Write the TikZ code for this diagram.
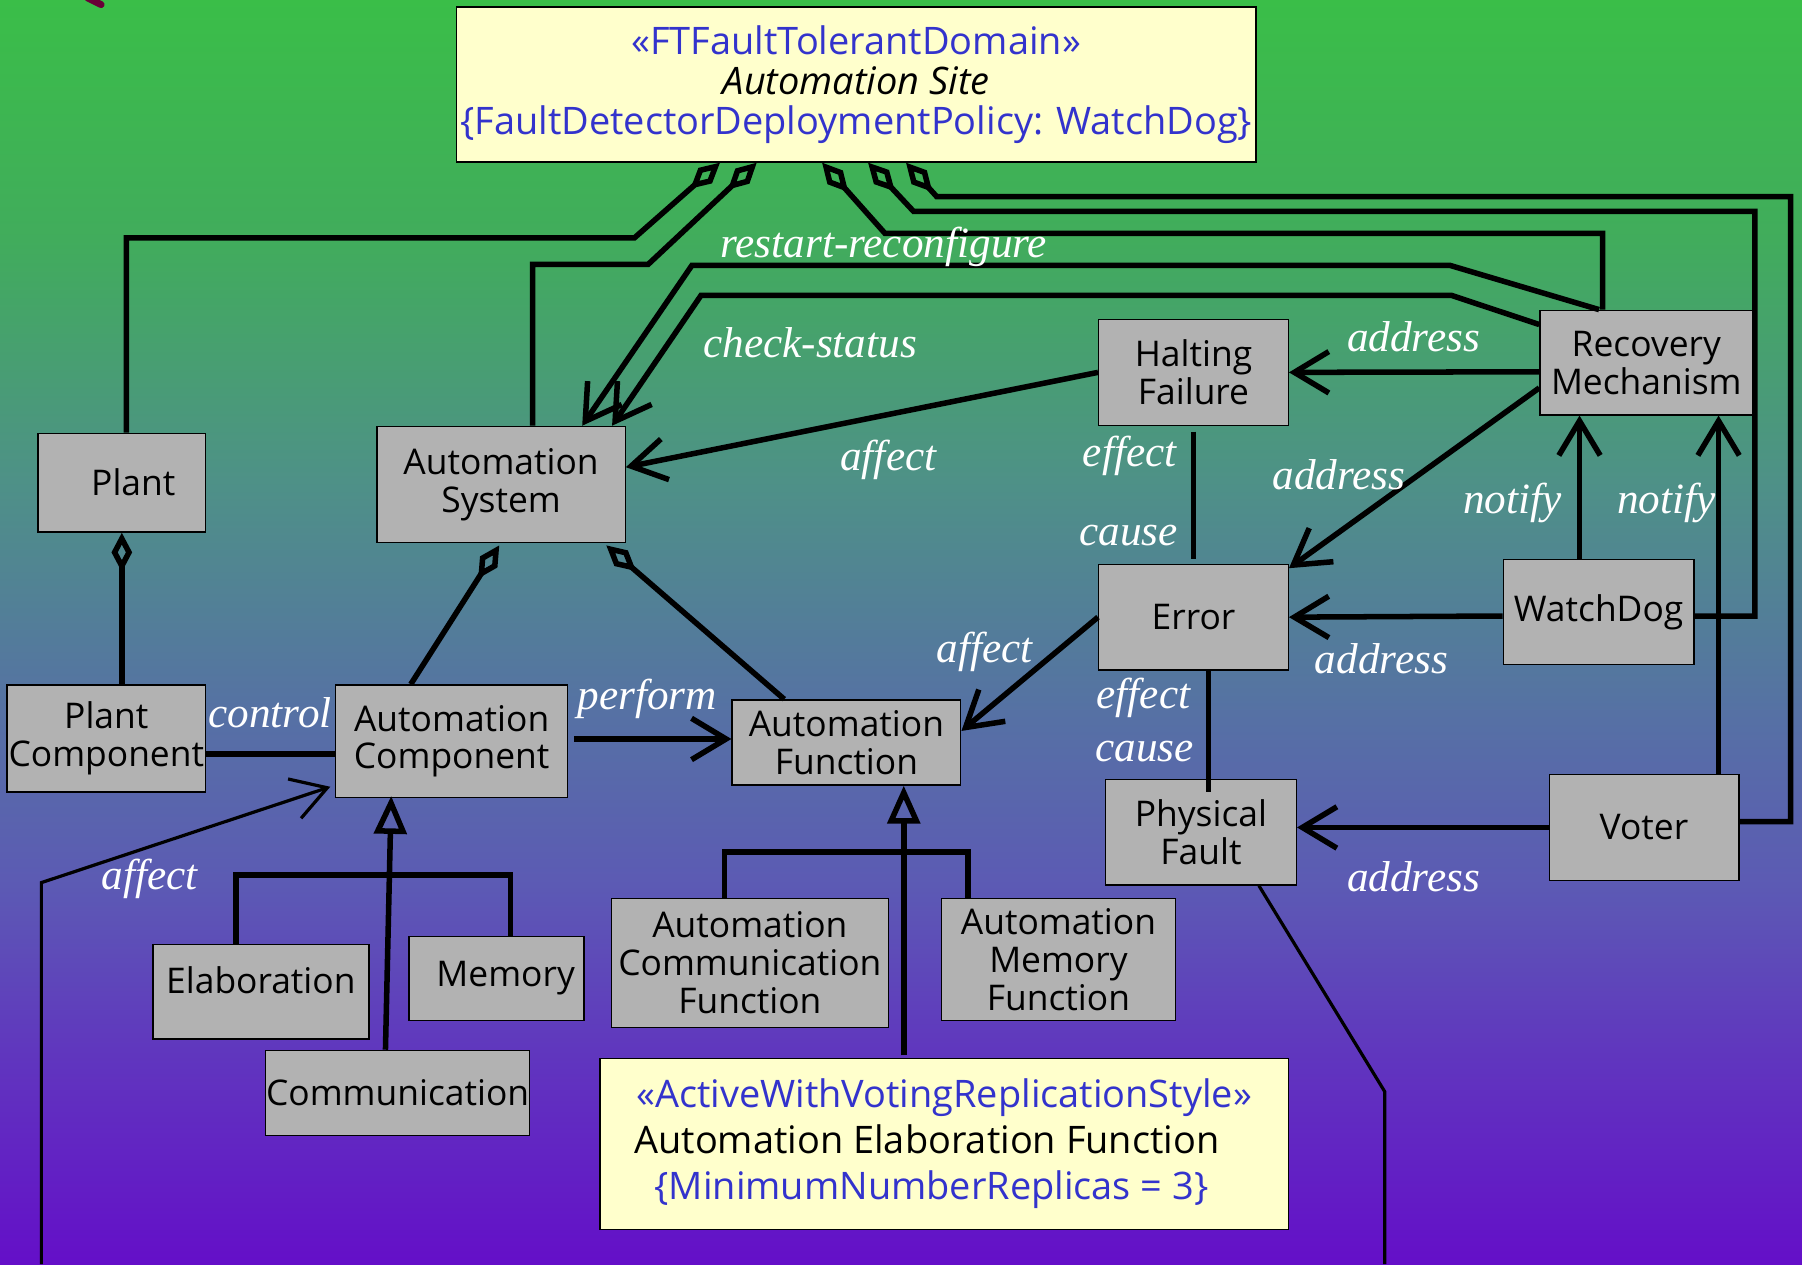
\documentclass[tikz,border=0pt]{standalone}
\usepackage{fontspec}
\setmainfont{Open Sans}
\newfontfamily\lblfont{Liberation Serif}
\usetikzlibrary{arrows.meta,calc}

\definecolor{g0}{RGB}{100,15,200}
\definecolor{g1}{RGB}{96,55,190}
\definecolor{g2}{RGB}{92,90,180}
\definecolor{g3}{RGB}{86,112,165}
\definecolor{g4}{RGB}{78,145,135}
\definecolor{g5}{RGB}{65,172,92}
\definecolor{g6}{RGB}{58,190,72}
\definecolor{boxgray}{RGB}{178,178,178}
\definecolor{notecol}{RGB}{255,255,204}
\definecolor{stereo}{RGB}{51,51,204}
\definecolor{maroonmark}{RGB}{105,0,55}

\pgfdeclareverticalshading{bgshade}{100bp}{color(0bp)=(g0); color(25bp)=(g0); color(33.5bp)=(g1); color(40bp)=(g2); color(46.5bp)=(g3); color(56bp)=(g4); color(65.5bp)=(g5); color(75bp)=(g6); color(100bp)=(g6)}

\tikzset{
  box/.style={draw=black, line width=0.6pt, fill=boxgray, align=center, inner sep=0pt,
    font=\fontsize{15.4}{16.5}\selectfont},
  note/.style={draw=black, line width=0.6pt, fill=notecol, align=center, inner sep=0pt},
  conn/.style={draw=black, line width=2.4pt},
  thinconn/.style={draw=black, line width=1.4pt},
  lbl/.style={text=white, inner sep=0pt, font=\lblfont\itshape\fontsize{18.8}{20}\selectfont},
  barb/.tip={Straight Barb[length=15pt,width=18pt]},
  agg/.tip={Diamond[open,length=17pt,width=9pt]},
  gen/.tip={Triangle[open,length=16.5pt,width=14pt]}
}

\begin{document}
\begin{tikzpicture}[x=0.5pt,y=-0.5pt]
\useasboundingbox (0,0) rectangle (1568,1100);
\shade[shading=bgshade] (0,0) rectangle (1568,1100);
\draw[maroonmark, line width=3pt, line cap=round] (76,-2) -- (88,4);

% boxes
\node[box, minimum width=73pt, minimum height=43pt] (plant) at (106,420) {\hspace*{10pt}Plant};
\node[box, minimum width=108pt, minimum height=50.5pt] (as) at (436,421.5) {Automation\\System};
\node[box, minimum width=86.5pt, minimum height=46.5pt] (pc) at (92.5,642.5) {Plant\\Component};
\node[box, minimum width=101pt, minimum height=49pt] (ac) at (393,645) {Automation\\Component};
\node[box, minimum width=99.5pt, minimum height=37pt] (af) at (736.5,646) {Automation\\Function};
\node[box, minimum width=82.5pt, minimum height=46pt] (hf) at (1038.5,324) {Halting\\Failure};
\node[box, minimum width=92.5pt, minimum height=45.5pt] (rm) at (1432.5,315.5) {Recovery\\Mechanism};
\node[box, minimum width=82.5pt, minimum height=46pt] (err) at (1038.5,537) {Error};
\node[box, minimum width=83pt, minimum height=45.5pt] (wd) at (1391,532.5) {WatchDog};
\node[box, minimum width=83pt, minimum height=46pt] (pf) at (1045,724) {Physical\\Fault};
\node[box, minimum width=82.5pt, minimum height=46pt] (voter) at (1430.5,720) {Voter};
\node[box, minimum width=94pt, minimum height=41pt] (elab) at (227,863) {\raisebox{10pt}{Elaboration}};
\node[box, minimum width=76pt, minimum height=36.5pt] (mem) at (432,851.5) {\hspace*{8pt}\raisebox{4pt}{Memory}};
\node[box, minimum width=115pt, minimum height=37pt] (comm) at (346,951) {Communication};
\node[box, minimum width=120.5pt, minimum height=56pt] (acf) at (652.5,838) {Automation\\Communication\\Function};
\node[box, minimum width=102pt, minimum height=53pt] (amf) at (921,835) {Automation\\Memory\\Function};

\node[note, minimum width=348pt, minimum height=67.5pt, font=\fontsize{16.5}{17.5}\selectfont] (top) at (745,73.5)
  {\textcolor{stereo}{«FTFaultTolerantDomain»}\\\textit{Automation Site}\\\textcolor{stereo}{\{FaultDetectorDeploymentPolicy: WatchDog\}}};
\node[note, minimum width=299.5pt, minimum height=74.5pt, font=\fontsize{16.5}{20}\selectfont] (bot) at (821.5,995.5)
  {\textcolor{stereo}{«ActiveWithVotingReplicationStyle»}\\\hspace*{-15pt}Automation Elaboration Function\\\textcolor{stereo}{\{MinimumNumberReplicas = 3\}}\hspace*{11pt}};

% attachment points on the top box
\coordinate (d1) at ($(top.south west)+(230,0)$);
\coordinate (d2) at ($(top.south west)+(262,0)$);
\coordinate (d3) at ($(top.south west)+(319,0)$);
\coordinate (d4) at ($(top.south west)+(359,0)$);
\coordinate (d5) at ($(top.south west)+(392,0)$);
\coordinate (pfend) at (1205,1100);
\coordinate (affstart) at (36,1100);

% aggregations to the site
\draw[conn, agg-] (d1) -- (552,207) -| ($(plant.north)+(4,0)$);
\draw[conn, agg-] (d2) -- (564,230) -| ($(as.north west)+(136,0)$);
\draw[conn, agg-] (d3) -- (770,203) -| ($(rm.north west)+(55,0)$);
\draw[conn, agg-] (d4) -- (795,184) -- (1527,184) |- ($(wd.east)+(0,3.5)$);
\draw[conn, agg-] (d5) -- (815,171) -- (1558,171) |- ($(voter.east)+(0,-5)$);

% restart / check-status
\draw[conn, -barb] ($(rm.north west)+(52,0)$) -- (1262,231) -- (602,231) -- ($(as.north east)+(-38,0)$);
\draw[conn, -barb] ($(rm.north west)+(0,13)$) -- (1263,257) -- (610,257) -- ($(as.north east)+(-12,0)$);

% fault chain
\draw[conn, -barb] (hf.west) -- ($(as.east)+(0,-15)$);
\draw[conn, -barb] ($(rm.west)+(0,8)$) -- (hf.east);
\draw[conn, -barb] ($(rm.west)+(0,22)$) -- ($(err.north east)+(0,4)$);
\draw[conn] ($(hf.south)+(0,5)$) -- ($(err.north)+(0,-4)$);
\draw[conn, -barb] ($(wd.north west)+(67,0)$) -- ($(rm.south west)+(35,0)$);
\draw[conn, -barb] ($(voter.north west)+(148,0)$) -- ($(rm.south west)+(156,0)$);
\draw[conn, -barb] ($(wd.west)+(0,3.5)$) -- (err.east);
\draw[conn, -barb] (err.west) -- ($(af.east)+(0,-10)$);
\draw[conn] ($(err.south west)+(96,0)$) -- ($(pf.north west)+(90,12)$);
\draw[conn, -barb] (voter.west) -- (pf.east |- voter.west);
\draw[thinconn] ($(pf.south west)+(134,0)$) -- (1205,950) -- (pfend);
\draw[thinconn, -barb] (affstart) -- (36,768) -- ($(ac.south west)+(-4,-10)$);

% structure
\draw[conn, agg-] (plant.south) -- (pc.north -| plant.south);
\draw[conn, agg-] ($(as.south west)+(107,2)$) -- ($(ac.north west)+(66,0)$);
\draw[conn, agg-] ($(as.south east)+(-17,2)$) -- ($(af.north west)+(46,0)$);
\draw[conn] ($(pc.east)+(0,13.5)$) -- ($(ac.west)+(0,11)$);
\draw[conn, -barb] ($(ac.east)+(5,-2)$) -- ($(af.west)+(0,-3)$);

% generalizations
\draw[conn, -gen] ($(comm.north west)+(105,0)$) -- ($(ac.south west)+(49,-2)$);
\draw[conn] ($(elab.north west)+(73,0)$) |- ($(mem.north west)+(89,-53)$) -- ($(mem.north west)+(89,0)$);
\draw[conn, -gen] ($(bot.north west)+(265,-2)$) -- ($(af.south west)+(150,0)$);
\draw[conn] ($(acf.north west)+(99,0)$) |- ($(amf.north west)+(24,-40)$) -- ($(amf.north west)+(24,0)$);

% labels
\node[lbl] (l1) at (769,215) {restart-reconfigure};
\node[lbl] (l2) at (705,298) {check-status};
\node[lbl] (l3) at (773,400) {affect};
\node[lbl] (l4) at (983,397) {effect};
\node[lbl] (l5) at (982,466) {cause};
\node[lbl] (l6) at (1230,293) {address};
\node[lbl] (l7) at (1165,413) {address};
\node[lbl] (l8) at (1316,438) {notify};
\node[lbl] (l9) at (1450,438) {notify};
\node[lbl] (l10) at (857,567) {affect};
\node[lbl] (l11) at (1202,573) {address};
\node[lbl] (l12) at (995,607) {effect};
\node[lbl] (l13) at (996,654) {cause};
\node[lbl] (l14) at (1230,763) {address};
\node[lbl] (l15) at (235,620) {control};
\node[lbl] (l16) at (563,608) {perform};
\node[lbl] (l17) at (130,765) {affect};
\end{tikzpicture}
\end{document}
